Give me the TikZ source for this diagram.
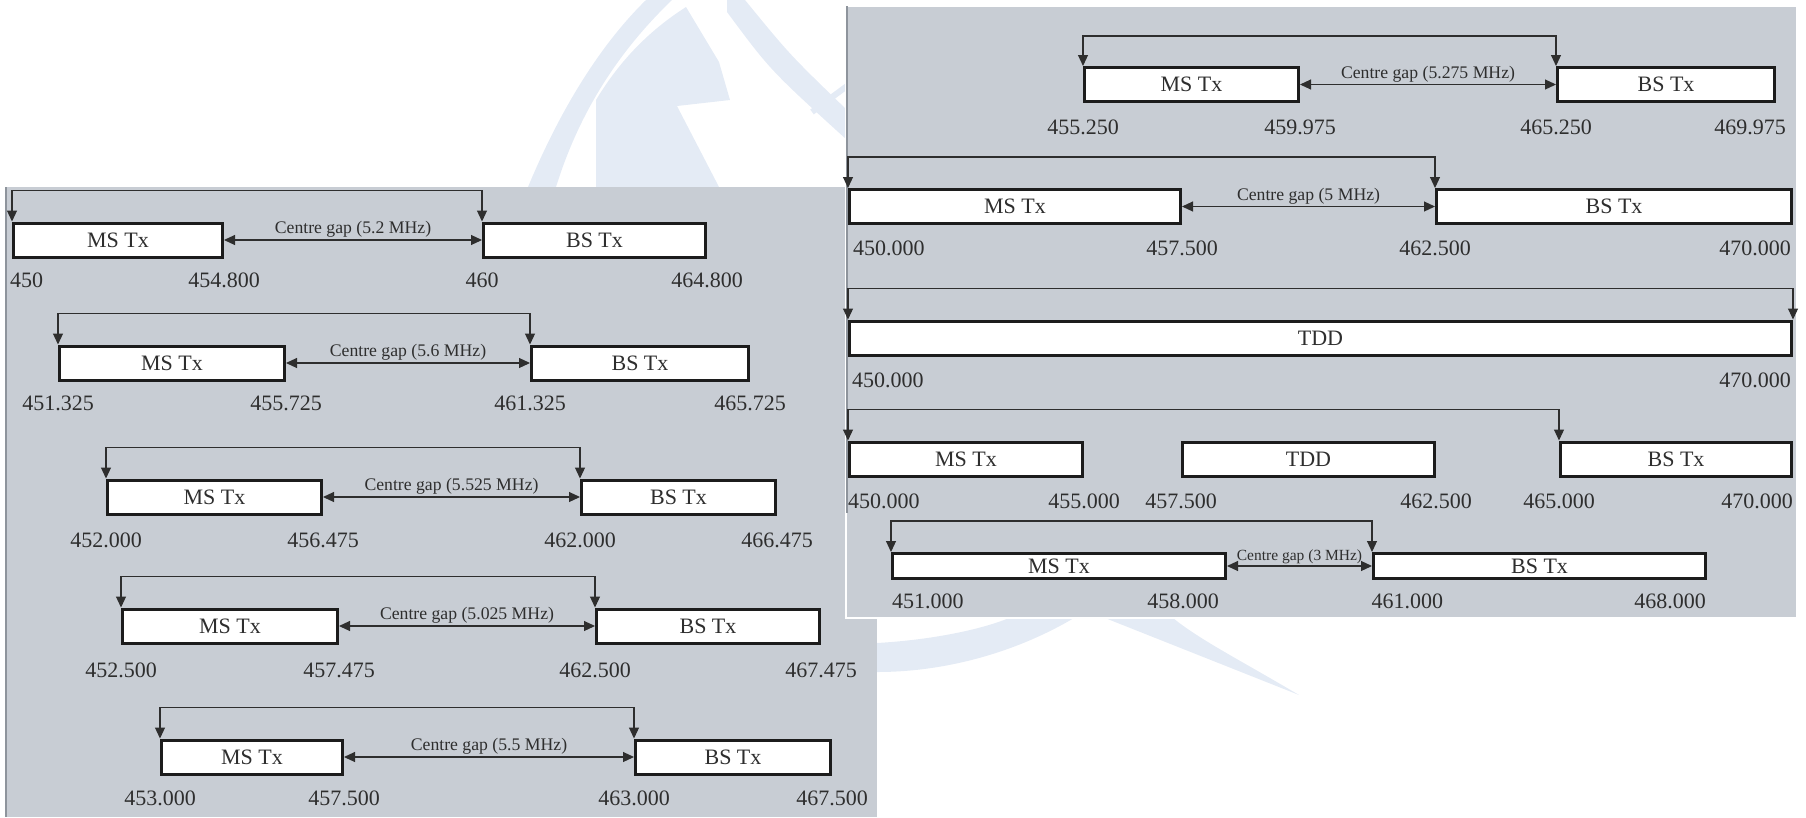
\documentclass[tikz,border=0pt]{standalone}
\usepackage{fontspec}
\setmainfont{Liberation Serif}
\usetikzlibrary{
  arrows.meta,
  positioning
}
\definecolor{bgPanel}{HTML}{C8CDD4}
\definecolor{bgRim}{HTML}{8E949C}
\definecolor{lnDark}{HTML}{2E2E2E}
\definecolor{boxEdge}{HTML}{1C1C1C}
\definecolor{wmBlue}{HTML}{E4EBF5}
\tikzset{
  panel/.style={fill=bgPanel},
  panelrim/.style={draw=bgRim, line width=2.5pt},
  watermark/.style={fill=wmBlue, draw=none},
  txbox/.style={
    draw=boxEdge, fill=white, line width=3pt, inner sep=0pt,
    minimum height=34pt, font=\fontsize{22}{24}\selectfont, text=lnDark
  },
  slimbox/.style={txbox, minimum height=25pt},
  freq/.style={inner sep=1pt, font=\fontsize{22}{24}\selectfont, text=lnDark},
  gapline/.style={<->, >={Triangle[length=11pt, width=10pt]}, line width=1.1pt, lnDark},
  feedback/.style={<->, >={Triangle[length=11pt, width=10pt]}, line width=1.1pt, lnDark},
  gaptext/.style={font=\fontsize{17.7}{19}\selectfont, inner sep=2pt, text=lnDark},
  gapsmall/.style={gaptext, font=\fontsize{15.5}{17}\selectfont}
}

\begin{document}
\begin{tikzpicture}[x=1pt, y=-1pt]
  \useasboundingbox (0,0) rectangle (1806,817);

  % faint logo behind the panels
  \fill[watermark] (528,187) .. controls (560,110) and (600,45) .. (646,0) -- (672,0) .. controls (620,50) and (580,110) .. (556,187) -- cycle;
  \fill[watermark] (596,187) -- (596,100) .. controls (620,60) and (650,30) .. (686,7) -- (719,62) -- (730,100) -- (677,106) -- (719,187) -- cycle;
  \fill[watermark] (727,12) .. controls (770,70) .. (847,140) -- (847,110) .. controls (790,55) .. (745,0) -- (727,0) -- cycle;
  \draw[wmBlue, line width=6pt] (812,112) -- (847,86);
  \fill[watermark] (877,643) .. controls (930,640) and (980,630) .. (1009,618) -- (1074,618) .. controls (1020,650) and (950,672) .. (877,672) -- cycle;
  \fill[watermark] (1105,618) -- (1299,695) .. controls (1240,660) and (1200,640) .. (1173,618) -- cycle;

  % panels
  \fill[panel] (5,187) rectangle (877,817);
  \draw[panelrim] (6,187) -- (6,817);
  \filldraw[panel, draw=white, line width=2pt] (846,6) rectangle (1797,618);
  \draw[panelrim] (847,6) -- (847,513);

  % left panel, row 1
  \node[txbox, minimum width=209] (ms1) at (118,240) {MS Tx};
  \node[txbox, minimum width=222] (bs1) at (594.5,240) {BS Tx};
  \draw[feedback] (ms1.north west) -- ++(0,-31) -| (bs1.north west);
  \draw[gapline] (ms1.east) -- node[gaptext, above] (g1) {Centre gap (5.2 MHz)} (bs1.west);
  \node[freq, below right=13pt and -3pt of ms1.south west] (f1a) {450};
  \node[freq, below=13pt of ms1.south east] (f1b) {454.800};
  \node[freq, below=13pt of bs1.south west] (f1c) {460};
  \node[freq, below=13pt of bs1.south east] (f1d) {464.800};

  % left panel, row 2
  \node[txbox, minimum width=225] (ms2) at (172,363) {MS Tx};
  \node[txbox, minimum width=217] (bs2) at (640,363) {BS Tx};
  \draw[feedback] (ms2.north west) -- ++(0,-31) -| (bs2.north west);
  \draw[gapline] (ms2.east) -- node[gaptext, above] (g2) {Centre gap (5.6 MHz)} (bs2.west);
  \node[freq, below=13pt of ms2.south west] (f2a) {451.325};
  \node[freq, below=13pt of ms2.south east] (f2b) {455.725};
  \node[freq, below=13pt of bs2.south west] (f2c) {461.325};
  \node[freq, below=13pt of bs2.south east] (f2d) {465.725};

  % left panel, row 3
  \node[txbox, minimum width=214] (ms3) at (214.5,497) {MS Tx};
  \node[txbox, minimum width=194] (bs3) at (678.5,497) {BS Tx};
  \draw[feedback] (ms3.north west) -- ++(0,-31) -| (bs3.north west);
  \draw[gapline] (ms3.east) -- node[gaptext, above] (g3) {Centre gap (5.525 MHz)} (bs3.west);
  \node[freq, below=16pt of ms3.south west] (f3a) {452.000};
  \node[freq, below=16pt of ms3.south east] (f3b) {456.475};
  \node[freq, below=16pt of bs3.south west] (f3c) {462.000};
  \node[freq, below=16pt of bs3.south east] (f3d) {466.475};

  % left panel, row 4
  \node[txbox, minimum width=215] (ms4) at (230,626) {MS Tx};
  \node[txbox, minimum width=223] (bs4) at (708,626) {BS Tx};
  \draw[feedback] (ms4.north west) -- ++(0,-31) -| (bs4.north west);
  \draw[gapline] (ms4.east) -- node[gaptext, above] (g4) {Centre gap (5.025 MHz)} (bs4.west);
  \node[freq, below=17pt of ms4.south west] (f4a) {452.500};
  \node[freq, below=17pt of ms4.south east] (f4b) {457.475};
  \node[freq, below=17pt of bs4.south west] (f4c) {462.500};
  \node[freq, below=17pt of bs4.south east] (f4d) {467.475};

  % left panel, row 5
  \node[txbox, minimum width=181] (ms5) at (252,757) {MS Tx};
  \node[txbox, minimum width=195] (bs5) at (733,757) {BS Tx};
  \draw[feedback] (ms5.north west) -- ++(0,-31) -| (bs5.north west);
  \draw[gapline] (ms5.east) -- node[gaptext, above] (g5) {Centre gap (5.5 MHz)} (bs5.west);
  \node[freq, below=14pt of ms5.south west] (f5a) {453.000};
  \node[freq, below=14pt of ms5.south east] (f5b) {457.500};
  \node[freq, below=14pt of bs5.south west] (f5c) {463.000};
  \node[freq, below=14pt of bs5.south east] (f5d) {467.500};

  % right panel, row 1
  \node[txbox, minimum width=214] (rms1) at (1191.5,84.5) {MS Tx};
  \node[txbox, minimum width=217] (rbs1) at (1666,84.5) {BS Tx};
  \draw[feedback] (rms1.north west) -- ++(0,-30) -| (rbs1.north west);
  \draw[gapline] (rms1.east) -- node[gaptext, above] (rg1) {Centre gap (5.275 MHz)} (rbs1.west);
  \node[freq, below=15.5pt of rms1.south west] (r1a) {455.250};
  \node[freq, below=15.5pt of rms1.south east] (r1b) {459.975};
  \node[freq, below=15.5pt of rbs1.south west] (r1c) {465.250};
  \node[freq, below left=15.5pt and -11pt of rbs1.south east] (r1d) {469.975};

  % right panel, row 2
  \node[txbox, minimum width=331] (rms2) at (1015,206.5) {MS Tx};
  \node[txbox, minimum width=355] (rbs2) at (1614,206.5) {BS Tx};
  \draw[feedback] (rms2.north west) -- ++(0,-31) -| (rbs2.north west);
  \draw[gapline] (rms2.east) -- node[gaptext, above] (rg2) {Centre gap (5 MHz)} (rbs2.west);
  \node[freq, below right=14.5pt and 4pt of rms2.south west] (r2a) {450.000};
  \node[freq, below=14.5pt of rms2.south east] (r2b) {457.500};
  \node[freq, below=14.5pt of rbs2.south west] (r2c) {462.500};
  \node[freq, below left=14.5pt and 1pt of rbs2.south east] (r2d) {470.000};

  % right panel, row 3
  \node[txbox, minimum width=942] (tdd3) at (1320.5,338) {TDD};
  \draw[feedback] (tdd3.north west) -- ++(0,-31) -| (tdd3.north east);
  \node[freq, below right=15pt and 3pt of tdd3.south west] (r3a) {450.000};
  \node[freq, below left=15pt and 1pt of tdd3.south east] (r3b) {470.000};

  % right panel, row 4
  \node[txbox, minimum width=233] (rms4) at (966,459) {MS Tx};
  \node[txbox, minimum width=252] (tdd4) at (1308.5,459) {TDD};
  \node[txbox, minimum width=231] (rbs4) at (1676,459) {BS Tx};
  \draw[feedback] (rms4.north west) -- ++(0,-31) -| (rbs4.north west);
  \node[freq, below right=15pt and -1pt of rms4.south west] (r4a) {450.000};
  \node[freq, below=15pt of rms4.south east] (r4b) {455.000};
  \node[freq, below=15pt of tdd4.south west] (r4c) {457.500};
  \node[freq, below=15pt of tdd4.south east] (r4d) {462.500};
  \node[freq, below=15pt of rbs4.south west] (r4e) {465.000};
  \node[freq, below left=15pt and -1pt of rbs4.south east] (r4f) {470.000};

  % right panel, row 5
  \node[slimbox, minimum width=333] (rms5) at (1059,566) {MS Tx};
  \node[slimbox, minimum width=332] (rbs5) at (1539.5,566) {BS Tx};
  \draw[feedback] (rms5.north west) -- ++(0,-31) -| (rbs5.north west);
  \draw[gapline] (rms5.east) -- node[gapsmall, above] (rg5) {Centre gap (3 MHz)} (rbs5.west);
  \node[freq, below right=12.5pt and 0pt of rms5.south west] (r5a) {451.000};
  \node[freq, below left=12.5pt and 7pt of rms5.south east] (r5b) {458.000};
  \node[freq, below right=12.5pt and -1.5pt of rbs5.south west] (r5c) {461.000};
  \node[freq, below left=12.5pt and 0pt of rbs5.south east] (r5d) {468.000};
\end{tikzpicture}
\end{document}
